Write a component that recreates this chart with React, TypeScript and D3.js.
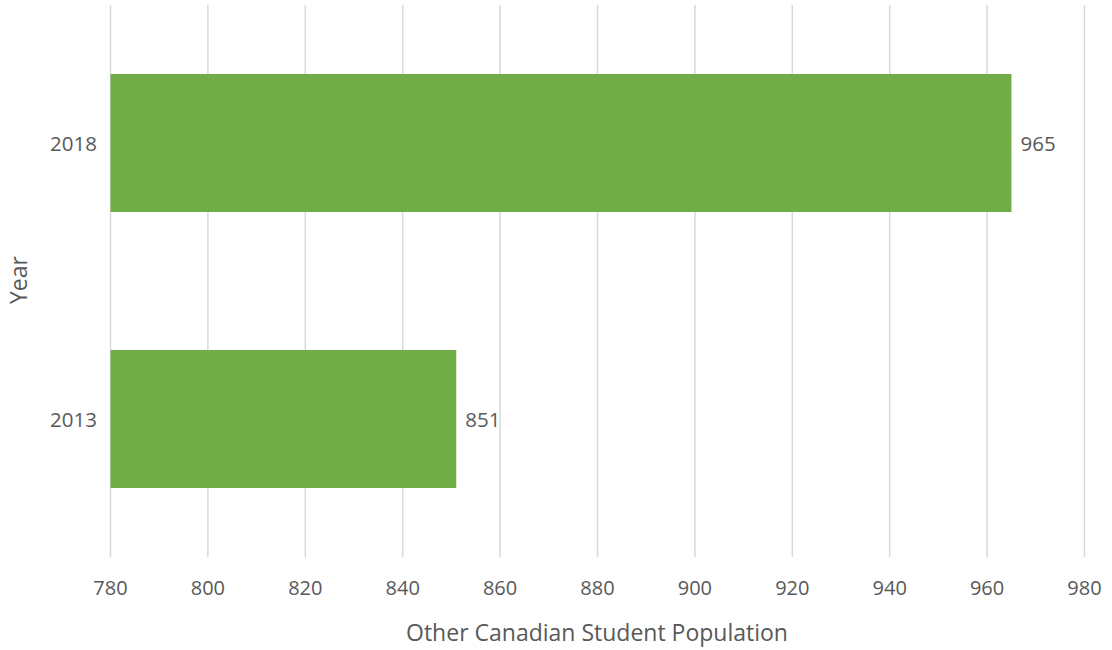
import React from "react";
import * as d3 from "d3";

const years = ["2018", "2013"];
const population = [965, 851];
const xTicks = [780, 800, 820, 840, 860, 880, 900, 920, 940, 960, 980];
const xTitle = "Other Canadian Student Population";
const yTitle = "Year";

export default function App() {
  const W = 1112, H = 650;
  const left = 110.5, right = 1084.5, top = 5, bottom = 557;
  const x = d3.scaleLinear().domain([780, 980]).range([left, right]);
  const y = d3.scaleBand().domain(years).range([top, bottom]).paddingInner(0.5).paddingOuter(0.25);
  const font = "'Open Sans', sans-serif";
  const color = "#595959";
  return (
    <svg width={W} height={H} style={{ position: "absolute", left: 0, top: 0, background: "#fff" }}>
      {xTicks.map((t) => (
        <g key={t}>
          <line x1={x(t)} x2={x(t)} y1={top} y2={bottom} stroke="#d9d9d9" strokeWidth={1.5} />
          <text x={x(t)} y={587} textAnchor="middle" dominantBaseline="central" fontFamily={font} fontSize={20} fill={color}>{t}</text>
        </g>
      ))}
      {years.map((yr, i) => (
        <g key={yr}>
          <rect x={x(780)} y={y(yr)!} width={x(population[i]) - x(780)} height={y.bandwidth()} fill="#70AD47" />
          <text x={97} y={y(yr)! + y.bandwidth() / 2} textAnchor="end" dominantBaseline="central" fontFamily={font} fontSize={20.5} fill={color}>{yr}</text>
          <text x={x(population[i]) + 9} y={y(yr)! + y.bandwidth() / 2} textAnchor="start" dominantBaseline="central" fontFamily={font} fontSize={20.5} fill={color}>{population[i]}</text>
        </g>
      ))}
      <text x={597} y={632} textAnchor="middle" dominantBaseline="central" fontFamily={font} fontSize={23} fill={color}>{xTitle}</text>
      <text transform={`translate(18,280) rotate(-90)`} textAnchor="middle" dominantBaseline="central" fontFamily={font} fontSize={23} fill={color}>{yTitle}</text>
    </svg>
  );
}
